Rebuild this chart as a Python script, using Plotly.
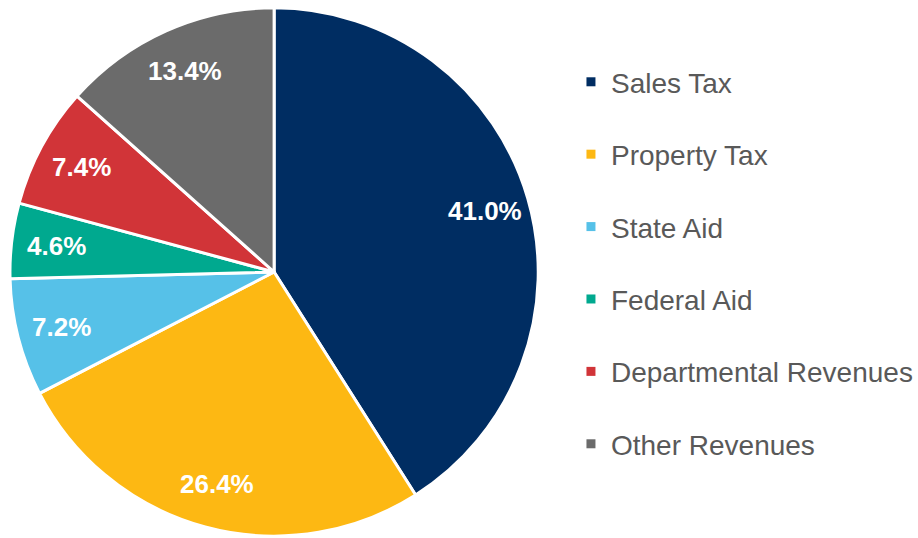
import numpy as np
import plotly.graph_objects as go

labels = ['Sales Tax', 'Property Tax', 'State Aid', 'Federal Aid', 'Departmental Revenues', 'Other Revenues']
values = [41.0, 26.4, 7.2, 4.6, 7.4, 13.4]
colors = ['#002D62', '#FDB813', '#56C1E8', '#00A98F', '#D13438', '#6B6B6B']

W, H = 918, 538
cx, cy, R = 275, 272, 265  # pie centre / radius in px
label_r = 0.83  # Excel-style best-fit labels sit further out than plotly's

fig = go.Figure()

fig.add_trace(go.Pie(
    labels=labels, values=values, sort=False, direction='clockwise',
    marker=dict(colors=colors, line=dict(color='white', width=3)),
    textinfo='none', hoverinfo='label+percent',
    domain=dict(x=[(cx - R) / W, (cx + R) / W], y=[1 - (cy + R) / H, 1 - (cy - R) / H]),
    showlegend=False,
))

# percentage labels at slice mid-angles
vals = np.array(values)
mids = (np.cumsum(vals) - vals / 2) / vals.sum() * 2 * np.pi
for v, a in zip(values, mids):
    fig.add_annotation(
        x=(cx + label_r * R * np.sin(a)) / W, y=1 - (cy - label_r * R * np.cos(a)) / H,
        xref='paper', yref='paper', xanchor='center', yanchor='middle',
        text=f'{v:.1f}%', showarrow=False,
        font=dict(family='Arial, Liberation Sans', size=26, color='white', weight='bold'),
    )

# legend from dummy traces so the row spacing can be set
for lab, col in zip(labels, colors):
    fig.add_trace(go.Scatter(
        x=[None], y=[None], mode='markers', name=lab, legendgroup=lab,
        marker=dict(symbol='square', size=9, color=col),
    ))

fig.update_layout(
    width=W, height=H,
    margin=dict(l=0, r=0, t=0, b=0),
    paper_bgcolor='white', plot_bgcolor='white',
    xaxis=dict(visible=False), yaxis=dict(visible=False),
    legend=dict(
        x=0.624, y=0.511, xanchor='left', yanchor='middle',
        traceorder='grouped', tracegroupgap=33,
        font=dict(family='Arial, Liberation Sans', size=28, color='#595959'),
        itemwidth=30,
    ),
)

fig.write_html("out.html", config={'displayModeBar': False},
               post_script="document.body.style.margin='0';")
